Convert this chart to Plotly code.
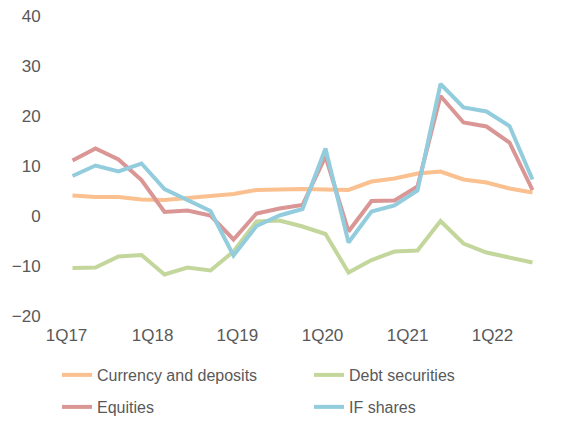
import plotly.graph_objects as go

quarters = ["1Q17", "2Q17", "3Q17", "4Q17", "1Q18", "2Q18", "3Q18", "4Q18",
            "1Q19", "2Q19", "3Q19", "4Q19", "1Q20", "2Q20", "3Q20", "4Q20",
            "1Q21", "2Q21", "3Q21", "4Q21", "1Q22"]

currency_deposits = [4.1, 3.8, 3.8, 3.3, 3.2, 3.6, 3.9, 4.4, 5.2, 5.4, 5.4, 5.3,
                     5.2, 6.9, 7.5, 8.5, 8.9, 7.3, 6.7, 5.5, 4.7]
debt_securities = [-10.4, -10.3, -8.1, -7.8, -11.7, -10.3, -10.9, -7.1, -1.1, -0.9, -2.1, -3.6,
                   -11.3, -8.8, -7.1, -6.9, -1.0, -5.5, -7.3, -8.3, -9.3]
equities = [11.1, 13.5, 11.3, 7.2, 0.8, 1.1, 0.1, -4.7, 0.5, 1.5, 2.2, 11.9,
            -3.1, 3.0, 3.1, 5.9, 24.0, 18.7, 17.9, 14.7, 5.2]
if_shares = [8.0, 10.1, 8.9, 10.5, 5.4, 3.3, 1.0, -7.9, -2.0, 0.1, 1.4, 13.5,
             -5.3, 0.9, 2.1, 5.1, 26.4, 21.7, 20.9, 18.0, 7.3]

tick_labels = ["1Q17", "1Q18", "1Q19", "1Q20", "1Q21", "1Q22"]
tick_positions = [-0.26, 3.48, 7.17, 10.87, 14.57, 18.26]
y_ticks = [-20, -10, 0, 10, 20, 30, 40]

series = [
    ("Currency and deposits", currency_deposits, "#FAC090", "legend"),
    ("Debt securities", debt_securities, "#C3D69B", "legend"),
    ("Equities", equities, "#D99694", "legend2"),
    ("IF shares", if_shares, "#93CDDD", "legend2"),
]

x_idx = list(range(len(quarters)))

fig = go.Figure()
for name, vals, color, leg in series:
    fig.add_trace(go.Scatter(
        x=x_idx, y=vals, name=name, mode="lines",
        line=dict(color=color, width=4),
        legend=leg,
        customdata=quarters,
        hovertemplate="%{customdata}: %{y}<extra>" + name + "</extra>",
    ))

font_family = "Liberation Sans, Arial, sans-serif"
legend_common = dict(
    orientation="h",
    xref="paper", yref="paper",
    x=-0.0083, xanchor="left", yanchor="middle",
    entrywidth=207, entrywidthmode="pixels",
    font=dict(family=font_family, size=16, color="#595959"),
    bgcolor="rgba(0,0,0,0)",
)

# page body has an 8px margin; figure sized to fit the 564x424 window
fig.update_layout(
    template="none",
    width=548, height=408,
    margin=dict(l=53, r=11.5, t=8, b=100, autoexpand=False),
    paper_bgcolor="white", plot_bgcolor="white",
    font=dict(family=font_family, size=17, color="#595959"),
    showlegend=True,
    legend=dict(y=-(367 - 308) / 300, **legend_common),
    legend2=dict(y=-(399 - 308) / 300, **legend_common),
    xaxis=dict(
        range=[-0.5, 20.5], automargin=False,
        tickmode="array", tickvals=tick_positions, ticktext=tick_labels,
        showgrid=False, zeroline=False, showline=False,
        ticks="outside", ticklen=4, tickcolor="rgba(0,0,0,0)",
        tickfont=dict(size=17, color="#595959"),
        ticklabeloverflow="allow",
    ),
    yaxis=dict(
        range=[-20, 40], automargin=False,
        tickmode="array", tickvals=y_ticks,
        showgrid=False, zeroline=False, showline=False,
        ticks="outside", ticklen=16, tickcolor="rgba(0,0,0,0)",
        tickfont=dict(size=17, color="#595959"),
        ticklabeloverflow="allow",
    ),
)

fig.write_html("out.html")
